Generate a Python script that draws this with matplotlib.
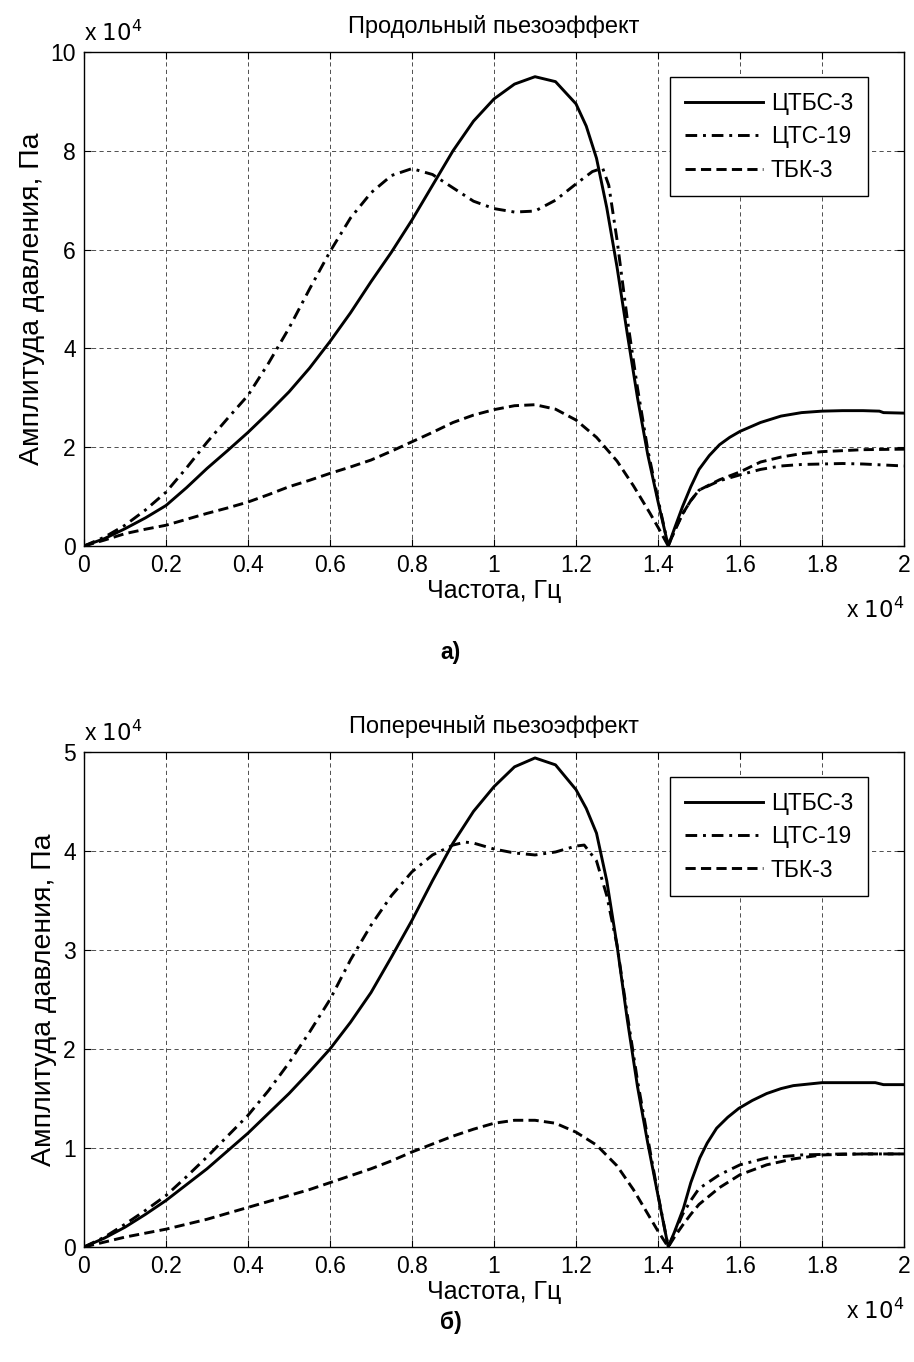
import matplotlib
matplotlib.use("Agg")
import matplotlib.pyplot as plt
from matplotlib.ticker import FixedLocator, FuncFormatter
import numpy as np

plt.rcParams['font.family'] = ['Liberation Sans', 'DejaVu Sans']

# ---------------- data (frequency in 1e4 Hz, pressure in 1e4 Pa) ----------------
labels = ["ЦТБС-3", "ЦТС-19", "ТБК-3"]

# Panel а) longitudinal piezo effect
a_x_tbs = [0, 0.05, 0.1, 0.15, 0.2, 0.25, 0.3, 0.35, 0.4, 0.45, 0.5, 0.55, 0.6, 0.65, 0.7, 0.75, 0.8,
           0.85, 0.9, 0.95, 1.0, 1.05, 1.1, 1.15, 1.2, 1.225, 1.25, 1.275, 1.3, 1.325, 1.35, 1.375, 1.4,
           1.425, 1.44, 1.46, 1.48, 1.5, 1.525, 1.55, 1.575, 1.6, 1.65, 1.7, 1.75, 1.8, 1.85, 1.9,
           1.94, 1.95, 2.0]
a_y_tbs = [0, 0.15, 0.35, 0.57, 0.82, 1.18, 1.57, 1.93, 2.3, 2.7, 3.12, 3.6, 4.14, 4.72, 5.35, 5.95, 6.6,
           7.3, 8.0, 8.6, 9.05, 9.35, 9.5, 9.4, 8.95, 8.5, 7.85, 6.85, 5.65, 4.3, 3.0, 1.85, 0.9,
           0.0, 0.35, 0.8, 1.2, 1.55, 1.83, 2.05, 2.2, 2.32, 2.5, 2.63, 2.7, 2.73, 2.74, 2.74,
           2.73, 2.7, 2.69]

a_x_ts = [0, 0.05, 0.1, 0.15, 0.2, 0.25, 0.3, 0.35, 0.4, 0.45, 0.5, 0.55, 0.6, 0.65, 0.7, 0.75, 0.8,
          0.85, 0.9, 0.95, 1.0, 1.05, 1.1, 1.15, 1.2, 1.24, 1.265, 1.28, 1.3, 1.325, 1.35, 1.375, 1.4,
          1.425, 1.44, 1.46, 1.48, 1.5, 1.55, 1.6, 1.65, 1.7, 1.75, 1.8, 1.85, 1.9, 1.95, 2.0]
a_y_ts = [0, 0.18, 0.42, 0.73, 1.09, 1.58, 2.1, 2.58, 3.05, 3.7, 4.41, 5.2, 5.96, 6.64, 7.15, 7.5, 7.64,
          7.52, 7.25, 6.98, 6.83, 6.76, 6.78, 7.0, 7.33, 7.58, 7.65, 7.3, 6.2, 4.6, 3.2, 1.95, 0.95,
          0.0, 0.3, 0.65, 0.92, 1.13, 1.32, 1.44, 1.55, 1.62, 1.65, 1.66, 1.67, 1.66, 1.64, 1.62]

a_x_tbk = [0, 0.05, 0.1, 0.15, 0.2, 0.25, 0.3, 0.35, 0.4, 0.45, 0.5, 0.55, 0.6, 0.65, 0.7, 0.75, 0.8,
           0.85, 0.9, 0.95, 1.0, 1.05, 1.1, 1.15, 1.2, 1.25, 1.3, 1.34, 1.38, 1.4, 1.425, 1.44, 1.46,
           1.48, 1.5, 1.55, 1.6, 1.65, 1.7, 1.75, 1.8, 1.9, 2.0]
a_y_tbk = [0, 0.12, 0.25, 0.34, 0.42, 0.54, 0.66, 0.77, 0.89, 1.04, 1.2, 1.33, 1.47, 1.6, 1.74, 1.92, 2.11,
           2.3, 2.5, 2.65, 2.76, 2.84, 2.86, 2.77, 2.55, 2.2, 1.72, 1.22, 0.67, 0.38, 0.0, 0.3, 0.65,
           0.92, 1.13, 1.34, 1.5, 1.7, 1.8, 1.87, 1.91, 1.95, 1.96]

# Panel б) transverse piezo effect
b_x_tbs = [0, 0.05, 0.1, 0.15, 0.2, 0.25, 0.3, 0.35, 0.4, 0.45, 0.5, 0.55, 0.6, 0.65, 0.7, 0.75, 0.8,
           0.85, 0.9, 0.95, 1.0, 1.05, 1.1, 1.15, 1.2, 1.225, 1.25, 1.275, 1.3, 1.325, 1.35, 1.375, 1.4,
           1.425, 1.44, 1.462, 1.48, 1.502, 1.52, 1.543, 1.57, 1.597, 1.63, 1.665, 1.7, 1.73, 1.8,
           1.93, 1.95, 2.0]
b_y_tbs = [0, 0.09, 0.2, 0.33, 0.47, 0.63, 0.79, 0.97, 1.15, 1.35, 1.55, 1.77, 2.0, 2.27, 2.57, 2.93, 3.3,
           3.7, 4.08, 4.4, 4.65, 4.85, 4.94, 4.87, 4.62, 4.43, 4.18, 3.7, 3.05, 2.3, 1.62, 1.05, 0.52,
           0.0, 0.15, 0.39, 0.65, 0.9, 1.05, 1.2, 1.31, 1.4, 1.48, 1.55, 1.6, 1.63, 1.66,
           1.66, 1.64, 1.64]

b_x_ts = [0, 0.05, 0.1, 0.15, 0.2, 0.25, 0.3, 0.35, 0.4, 0.45, 0.5, 0.55, 0.6, 0.65, 0.7, 0.75, 0.8,
          0.85, 0.9, 0.93, 0.95, 1.0, 1.05, 1.1, 1.15, 1.2, 1.22, 1.25, 1.275, 1.3, 1.325, 1.35, 1.375,
          1.4, 1.425, 1.44, 1.46, 1.48, 1.5, 1.55, 1.6, 1.665, 1.75, 1.85, 2.0]
b_y_ts = [0, 0.1, 0.23, 0.37, 0.52, 0.71, 0.91, 1.12, 1.33, 1.58, 1.86, 2.17, 2.5, 2.9, 3.25, 3.55, 3.79,
          3.96, 4.06, 4.09, 4.08, 4.02, 3.98, 3.96, 3.99, 4.05, 4.06, 3.9, 3.55, 3.05, 2.35, 1.68, 1.1,
          0.53, 0.0, 0.14, 0.33, 0.47, 0.59, 0.73, 0.83, 0.9, 0.93, 0.94, 0.94]

b_x_tbk = [0, 0.05, 0.1, 0.15, 0.2, 0.25, 0.3, 0.35, 0.4, 0.45, 0.5, 0.55, 0.6, 0.65, 0.7, 0.75, 0.8,
           0.85, 0.9, 0.95, 1.0, 1.05, 1.1, 1.15, 1.2, 1.25, 1.3, 1.34, 1.38, 1.4, 1.425, 1.44, 1.46,
           1.48, 1.5, 1.55, 1.6, 1.665, 1.73, 1.8, 1.9, 2.0]
b_y_tbk = [0, 0.05, 0.1, 0.14, 0.18, 0.23, 0.28, 0.34, 0.4, 0.46, 0.52, 0.58, 0.65, 0.72, 0.79, 0.87, 0.96,
           1.04, 1.12, 1.19, 1.25, 1.28, 1.28, 1.25, 1.16, 1.03, 0.82, 0.58, 0.3, 0.16, 0.0, 0.1, 0.22,
           0.33, 0.43, 0.6, 0.73, 0.83, 0.89, 0.93, 0.94, 0.94]

titles = ["Продольный пьезоэффект", "Поперечный пьезоэффект"]
panel_tags = ["а)", "б)"]
xlabel_text = "Частота, Гц"
ylabel_text = "Амплитуда давления, Па"
x_ticks = [0, 0.2, 0.4, 0.6, 0.8, 1.0, 1.2, 1.4, 1.6, 1.8, 2.0]
a_y_ticks = [0, 2, 4, 6, 8, 10]
b_y_ticks = [0, 1, 2, 3, 4, 5]
SCALE = 1e4

panels = [
    dict(series=[(a_x_tbs, a_y_tbs), (a_x_ts, a_y_ts), (a_x_tbk, a_y_tbk)], yticks=a_y_ticks, ymax=10,
         tag_off=-113),
    dict(series=[(b_x_tbs, b_y_tbs), (b_x_ts, b_y_ts), (b_x_tbk, b_y_tbk)], yticks=b_y_ticks, ymax=5,
         tag_off=-82),
]

styles = [
    dict(linestyle='-'),
    dict(linestyle=(0, (4.0, 2.0, 1.0, 2.0))),
    dict(linestyle=(0, (3.5, 1.8))),
]

W, H = 914, 1362
fig = plt.figure(figsize=(W / 100, H / 100), dpi=100)
fs = 16.5

axes_px = [(84, 52, 904, 546), (84, 752, 904, 1247)]

fmt = FuncFormatter(lambda v, p: f"{v / SCALE:g}")

for i, (pan, (l, t, r, b)) in enumerate(zip(panels, axes_px)):
    ax = fig.add_axes([l / W, 1 - b / H, (r - l) / W, (b - t) / H])
    for (xs, ys), st, lab in zip(pan['series'], styles, labels):
        ax.plot(np.array(xs) * SCALE, np.array(ys) * SCALE, color='black', lw=2.1,
                label=lab, **st)
    ax.set_xlim(0, 2 * SCALE)
    ax.set_ylim(0, pan['ymax'] * SCALE)
    ax.xaxis.set_major_locator(FixedLocator([v * SCALE for v in x_ticks]))
    ax.yaxis.set_major_locator(FixedLocator([v * SCALE for v in pan['yticks']]))
    ax.xaxis.set_major_formatter(fmt)
    ax.yaxis.set_major_formatter(fmt)
    ax.tick_params(direction='in', length=5, width=0.8, labelsize=fs, top=True, right=True, pad=6)
    ax.grid(True, color='#333333', linestyle=(0, (5, 4)), linewidth=0.6)
    for sp in ax.spines.values():
        sp.set_linewidth(1.0)
    ax.set_title(titles[i], fontsize=17, pad=14)
    ax.set_xlabel(xlabel_text, fontsize=18, labelpad=1)
    ax.set_ylabel(ylabel_text, fontsize=20.5, labelpad=4)
    ax.text(0.0, 1.012, r"x $10^4$", transform=ax.transAxes, ha='left', va='bottom', fontsize=fs)
    ax.annotate(r"x $10^4$", xy=(1.0, 0.0), xycoords='axes fraction', xytext=(0, -72),
                textcoords='offset pixels', ha='right', va='baseline', fontsize=fs)
    ax.annotate(panel_tags[i], xy=(0.447, 0.0), xycoords='axes fraction', xytext=(0, pan['tag_off']),
                textcoords='offset pixels', ha='center', va='baseline', fontsize=fs,
                fontweight='bold')
    leg = ax.legend(loc='upper right', bbox_to_anchor=((868 - l) / (r - l), 1 - 25 / (b - t)),
                    borderaxespad=0.0, fontsize=16.5, handlelength=3.4, frameon=True, fancybox=False,
                    edgecolor='black', framealpha=1.0, borderpad=0.65, labelspacing=0.45,
                    handletextpad=0.35)
    leg.get_frame().set_linewidth(1.0)

fig.savefig("out.png", dpi=100)
